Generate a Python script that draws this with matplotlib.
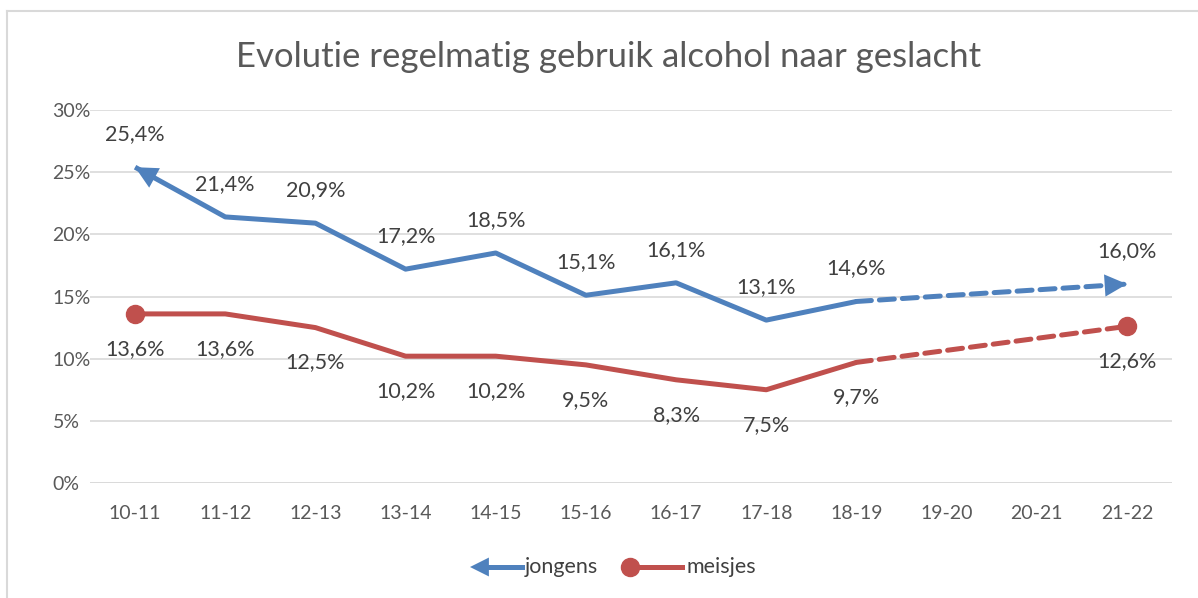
import numpy as np
import matplotlib.pyplot as plt
from matplotlib.lines import Line2D
from matplotlib.ticker import PercentFormatter

plt.rcParams['font.family'] = ['Lato', 'DejaVu Sans']

seasons = ['10-11', '11-12', '12-13', '13-14', '14-15', '15-16',
           '16-17', '17-18', '18-19', '19-20', '20-21', '21-22']
jongens = [25.4, 21.4, 20.9, 17.2, 18.5, 15.1, 16.1, 13.1, 14.6, np.nan, np.nan, 16.0]
meisjes = [13.6, 13.6, 12.5, 10.2, 10.2, 9.5, 8.3, 7.5, 9.7, np.nan, np.nan, 12.6]

BLUE = '#4F81BD'
RED = '#C0504D'
TXT = '#404040'
LW = 3.6


def label(v):
    return ('%.1f%%' % v).replace('.', ',')


def arrow_head(ax, x_tip, y_tip, x_from, y_from, color, coords='data', size=40):
    # short segment ending in a filled head
    ax.annotate('', xy=(x_tip, y_tip), xytext=(x_from, y_from),
                xycoords=coords, textcoords=coords, annotation_clip=False,
                arrowprops=dict(arrowstyle='-|>', color=color, lw=0,
                                mutation_scale=size, shrinkA=0, shrinkB=0))


def main():
    fig = plt.figure(figsize=(11.98, 5.98), dpi=100)
    ax = fig.add_axes([90 / 1198, 1 - 483 / 598, (1172 - 90) / 1198, (483 - 110) / 598])

    x = np.arange(len(seasons))
    jg = np.array(jongens)
    mj = np.array(meisjes)

    # solid part up to 18-19
    ax.plot(x[:9], jg[:9], color=BLUE, lw=LW, solid_capstyle='butt', zorder=3)
    ax.plot(x[:9], mj[:9], color=RED, lw=LW, solid_capstyle='butt', zorder=3)
    # dashed jump over missing years
    ax.plot([x[8], x[11]], [jg[8], jg[11]], color=BLUE, lw=LW, ls=(0, (3, 1.6)),
            dash_capstyle='round', zorder=3)
    ax.plot([x[8], x[11]], [mj[8], mj[11]], color=RED, lw=LW, ls=(0, (3, 1.6)),
            dash_capstyle='round', zorder=3)

    # arrow heads on the boys line
    f = 0.2
    arrow_head(ax, x[0], jg[0], x[0] + f, jg[0] + f * (jg[1] - jg[0]), BLUE)
    arrow_head(ax, x[11], jg[11], x[11] - f, jg[11] - f * (jg[11] - jg[8]) / 3, BLUE)
    # round markers on the girls line
    ax.plot([x[0], x[11]], [mj[0], mj[11]], 'o', color=RED, ms=13, zorder=4)

    for i, v in enumerate(jongens):
        if not np.isnan(v):
            ax.annotate(label(v), (x[i], v), xytext=(0, 33), textcoords='offset pixels',
                        ha='center', va='center', fontsize=15.5, color=TXT)
    for i, v in enumerate(meisjes):
        if not np.isnan(v):
            ax.annotate(label(v), (x[i], v), xytext=(0, -35), textcoords='offset pixels',
                        ha='center', va='center', fontsize=15.5, color=TXT)

    ax.set_xlim(-0.5, len(seasons) - 0.5)
    ax.set_ylim(0, 30)
    ax.set_yticks(np.arange(0, 31, 5))
    ax.yaxis.set_major_formatter(PercentFormatter(decimals=0))
    ax.set_xticks(x)
    ax.set_xticklabels(seasons)
    ax.tick_params(length=0, labelsize=14, labelcolor='#595959', pad=16)
    ax.tick_params(axis='y', pad=27)
    for lbl in ax.get_yticklabels():
        lbl.set_horizontalalignment('left')
    ax.grid(axis='y', color='#D9D9D9', lw=1.2)
    ax.set_axisbelow(True)
    for s in ax.spines.values():
        s.set_visible(False)
    ax.axhline(0, color='#D9D9D9', lw=1.2, zorder=1)

    fig.text(609 / 1198, 1 - 57 / 598, 'Evolutie regelmatig gebruik alcohol naar geslacht',
             ha='center', va='center', fontsize=25, color='#595959')

    # chart border (top and left visible)
    fig.add_artist(Line2D([7 / 1198, 7 / 1198], [0, 1 - 11 / 598], color='#D9D9D9', lw=1.5))
    fig.add_artist(Line2D([7 / 1198, 1], [1 - 11 / 598, 1 - 11 / 598], color='#D9D9D9', lw=1.5))

    # legend drawn by hand
    ly = 1 - 567 / 598
    fig.add_artist(Line2D([485 / 1198, 522 / 1198], [ly, ly], color=BLUE, lw=LW))
    arrow_head(ax, 470 / 1198, ly, 492 / 1198, ly, BLUE, coords='figure fraction', size=34)
    fig.text(525 / 1198, ly, 'jongens', ha='left', va='center', fontsize=15.5, color=TXT)
    fig.add_artist(Line2D([630 / 1198, 682 / 1198], [ly, ly], color=RED, lw=LW))
    fig.add_artist(Line2D([630 / 1198], [ly], marker='o', color=RED, ms=13))
    fig.text(686 / 1198, ly, 'meisjes', ha='left', va='center', fontsize=15.5, color=TXT)

    fig.savefig('out.png', dpi=100)


if __name__ == '__main__':
    main()
